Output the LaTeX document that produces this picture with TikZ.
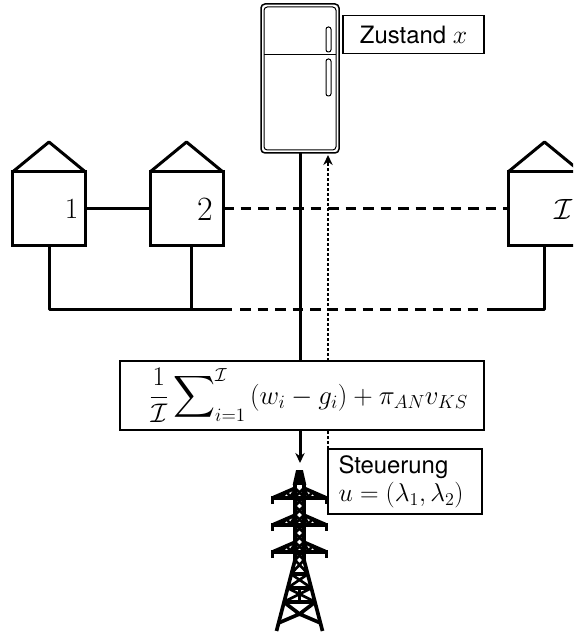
\documentclass[tikz,border=0pt]{standalone}
\usepackage{fix-cm}
\usepackage{amsmath}
\usepackage{fontspec}
\setsansfont{TeX Gyre Heros}
\usepackage{tikz}
\usetikzlibrary{positioning,arrows.meta}
\newcommand{\lbltext}{\fontsize{20.4}{24}\selectfont}
\newcommand{\mathtext}{\fontsize{22}{24}\selectfont}
\tikzset{
  wire/.style={line width=0.09cm},
  dashwire/.style={wire,dash pattern=on 0.315cm off 0.21cm},
  dotwire/.style={line width=0.08cm,dash pattern=on 0.08cm off 0.07cm},
  infobox/.style={draw,line width=0.04cm,fill=white,inner sep=0pt,outer sep=0pt,align=left},
  housebox/.style={draw,line width=0.09cm,fill=white,minimum width=2.19cm,minimum height=2.22cm,
    inner sep=0pt,outer sep=0pt},
  towerline/.style={line width=0.08cm},
  towerleg/.style={line width=0.11cm}
}
\begin{document}
\begin{tikzpicture}
  \clip (0,0) rectangle (17.19,19.02);
  % fridge
  \node[draw,rounded corners=0.12cm,line width=0.045cm,minimum width=2.34cm,minimum height=4.47cm,
    inner sep=0pt,outer sep=0pt] (fridge) at (9,16.665) {};
  \draw[line width=0.03cm,rounded corners=0.1cm] (7.92,14.52) rectangle (10.08,18.81);
  \draw[line width=0.03cm] (7.92,17.385) -- (10.08,17.385);
  \draw[line width=0.03cm,rounded corners=0.07cm] (9.78,17.46) rectangle (9.93,18.21);
  \draw[line width=0.03cm,rounded corners=0.07cm] (9.78,16.14) rectangle (9.93,17.25);
  \node[infobox,minimum width=4.23cm,minimum height=1.14cm,align=center,font=\lbltext] (zustand)
    at (12.405,17.985) {\sffamily Zustand {\mathtext$x$}};
  % houses
  \foreach \name/\xpos/\labx/\labsize/\lab in {one/1.47/0.675/25/1,two/5.595/0.555/29/2,last/16.335/0.57/25/{$\mathcal{I}$}}{
    \node[housebox] (\name) at (\xpos,12.75) {};
    \node[inner sep=0pt,font=\fontsize{\labsize}{28}\selectfont] (\name lab) at ([xshift=\labx cm]\name.center) {\lab};
    \draw[wire,line join=round] (\name.north west) -- ++(1.095,0.9) -- (\name.north east);
  }
  \draw[wire] (one) -- (two);
  \draw[dashwire] (two) -- (last);
  \coordinate (busone) at (1.47,9.72);
  \coordinate (bustwo) at (5.73,9.72);
  \coordinate (busend) at (16.335,9.72);
  \draw[wire,line join=round] (one.south) -- (busone) -- (6.96,9.72);
  \draw[wire] (bustwo |- two.south) -- (bustwo);
  \draw[dashwire] (7.2,9.72) -- (14.4,9.72);
  \draw[wire,line join=round] (14.61,9.72) -- (busend) -- (last.south);
  % sum and control
  \node[infobox,minimum width=10.92cm,minimum height=2.07cm,align=center,font=\fontsize{23}{28}\selectfont] (sum)
    at (9.06,7.155) {\hspace*{0.39cm}$\displaystyle\frac{1}{\mathcal{I}}\sum\nolimits_{i=1}^{\mathcal{I}}\,(w_i-g_i)+\pi_{AN}v_{KS}$};
  \coordinate (towertop) at (9,5.13);
  \draw[wire] (fridge.south) -- (fridge.south |- sum.north);
  \draw[wire,-{Stealth[length=0.3cm,width=0.28cm]}] (towertop |- sum.south) -- (towertop);
  % tower
  \begin{scope}[shift={(8.985,0.06)},x=0.03cm,y=0.03cm]
    \foreach \army in {80,107,134}{
      \draw[towerleg,line join=miter] (-27,\army-6) -- (-27,\army) -- (27,\army) -- (27,\army-6);
      \draw[towerleg] (-27,\army) -- (-4,\army+10) (27,\army) -- (4,\army+10);
      \draw[towerline] (-18,\army) -- (-13,\army+6) -- (-9,\army+1) -- (-5,\army+8)
        (18,\army) -- (13,\army+6) -- (9,\army+1) -- (5,\army+8);
    }
    \draw[towerleg,fill] (-4.5,149) -- (-2,160) -- (2,160) -- (4.5,149) -- cycle;
    \draw[towerleg] (-4.5,72) -- (-4.5,149) (4.5,149) -- (4.5,72);
    \foreach \masty in {72,81,...,135}{
      \draw[towerline] (-4.5,\masty) -- (4.5,\masty+9) (4.5,\masty) -- (-4.5,\masty+9);
    }
    \draw[towerleg] (-4.5,72) -- (-23,1) (4.5,72) -- (23,1);
    \draw[towerleg] (-15.8,30) -- (15.8,30) (-12,44) -- (12,44) (-8.6,58) -- (8.6,58);
    \draw[towerline] (-15.8,30) -- (12,44) (15.8,30) -- (-12,44) (-12,44) -- (8.6,58)
      (12,44) -- (-8.6,58) (-8.6,58) -- (4.5,72) (8.6,58) -- (-4.5,72) (0,30) -- (0,44);
    \draw[towerleg] (-15.8,30) -- (0,18) -- (15.8,30) (-21,9) -- (0,18) -- (21,9);
  \end{scope}
  \node[infobox,minimum width=4.62cm,minimum height=1.95cm,align=left,font=\lbltext,
    text width=3.99cm] (steuerung) at (12.15,4.575) {\sffamily Steuerung\\{\mathtext$u=(\lambda_1,\lambda_2)$}};
  % dotted feedback
  \coordinate (fbdot) at (steuerung.north west);
  \draw[dotwire] (fbdot) -- (fbdot |- sum.south);
  \draw[dotwire] (fbdot |- sum.north) -- ([yshift=-0.35cm]fbdot |- fridge.south);
  \draw[line width=0.08cm,-{Stealth[length=0.3cm,width=0.28cm]}] ([yshift=-0.35cm]fbdot |- fridge.south) -- ([yshift=-0.06cm]fbdot |- fridge.south);
\end{tikzpicture}
\end{document}
